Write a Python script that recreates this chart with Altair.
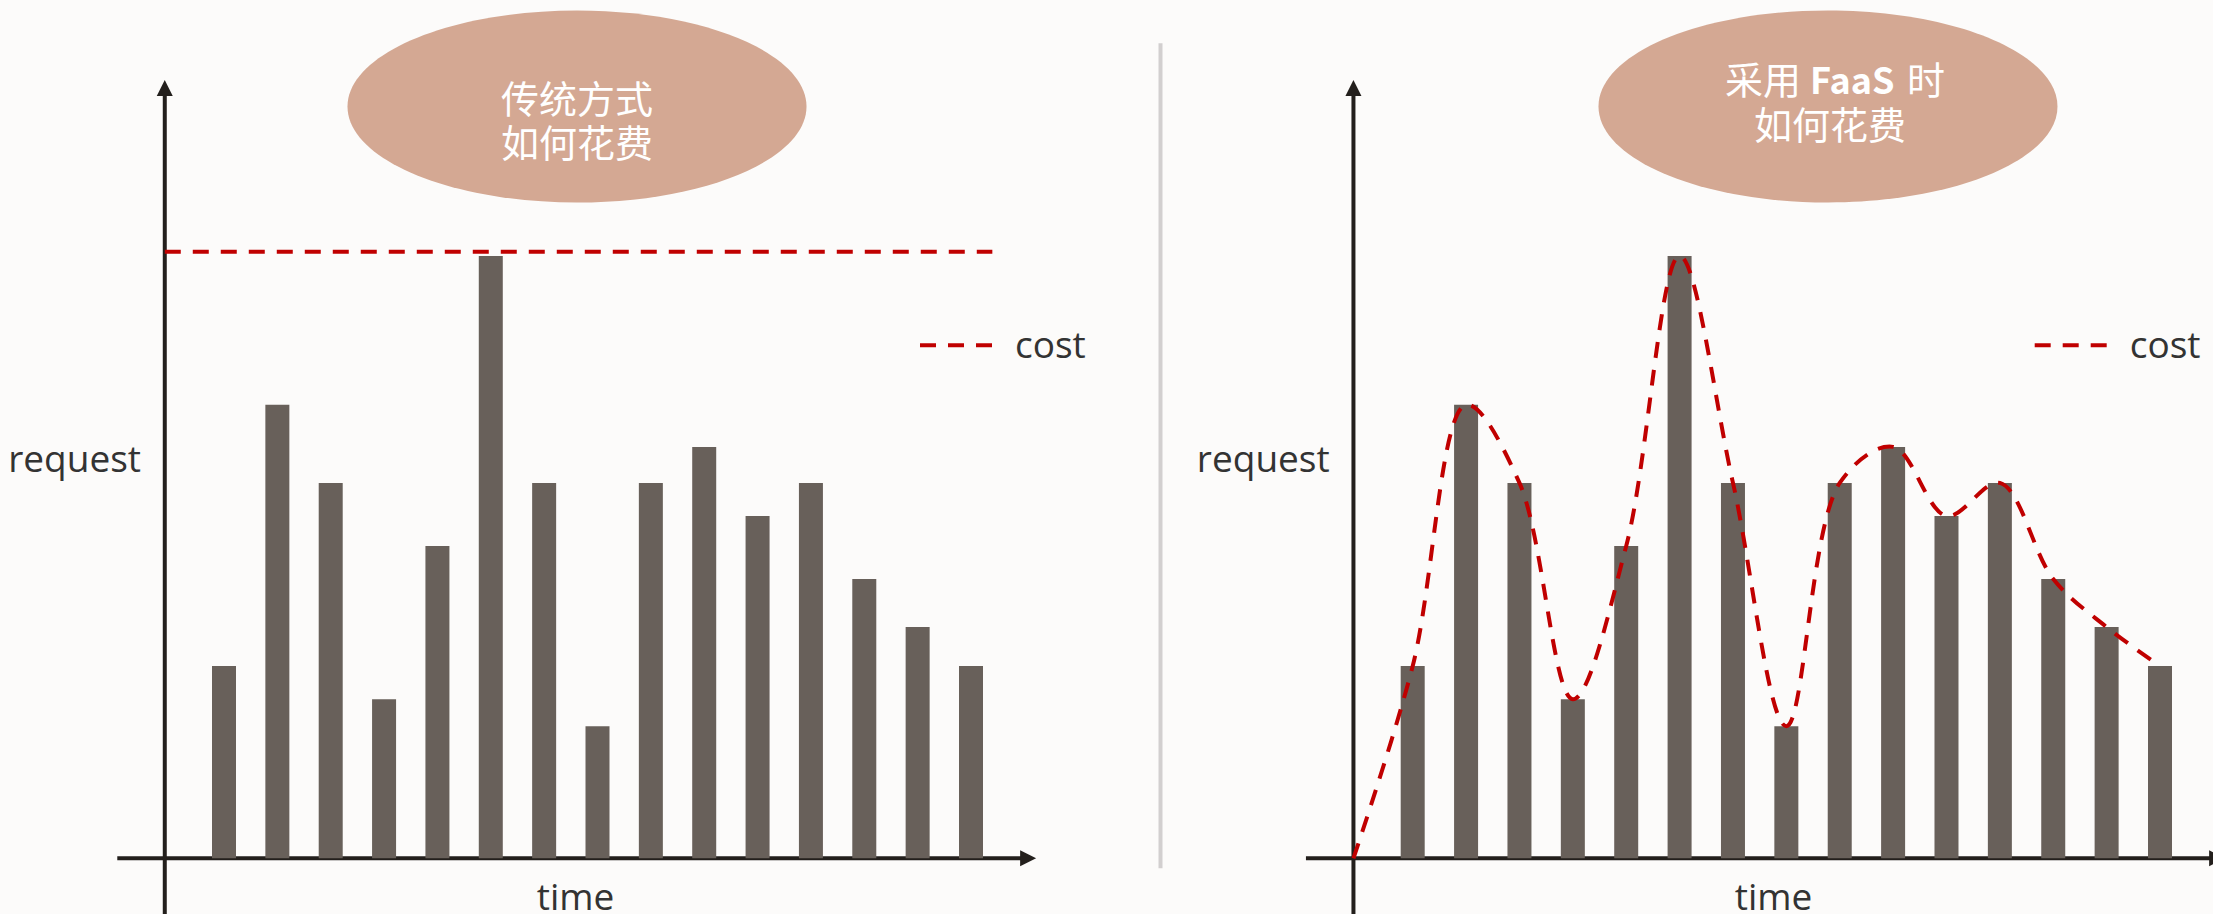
import altair as alt
import pandas as pd

# ---------------- data ----------------
time_slots = list(range(1, 16))
requests = [32, 75.5, 62.5, 26.5, 52, 100.3, 62.5, 22, 62.5, 68.5, 57, 62.5, 46.5, 38.5, 32]
fixed_cost = 101            # traditional way: provisioned for the peak
origin_time = -0.11         # where the two axes cross
axis_time_start = -1.0
axis_time_end = 16.22
cost_line_end = 15.4
axis_req_bottom = -10
axis_req_top = 129.6

left_title = ["传统方式", "如何花费"]
right_title_1 = ["采用", "FaaS", "时"]
right_title_2 = ["如何花费"]
x_label = ["time"]
y_label = ["request"]
legend_label = ["cost"]

# ---------------- styles ----------------
W, H = 2213, 914
BG = "#FCFBFA"
BAR = "#68605A"
RED = "#C00000"
AXIS = "#231F1C"
BADGE = "#D4A893"
TEXT = "#333333"
DIVIDER = "#D2CFCF"
LATIN = "Open Sans"
CJK = "Noto Sans CJK SC"
LABEL_SIZE = 37
TITLE_SIZE = 38
DASH = [16, 12]

bars_df = pd.DataFrame({"time": time_slots, "requests": requests})
curve_df = pd.DataFrame({"time": [origin_time] + time_slots,
                         "cost": [0] + requests})
curve_df["order"] = range(len(curve_df))
xaxis_df = pd.DataFrame({"t0": [axis_time_start], "t1": [axis_time_end], "r": [0]})
yaxis_df = pd.DataFrame({"t": [origin_time], "r0": [axis_req_bottom], "r1": [axis_req_top]})
xarrow_df = pd.DataFrame({"t": [axis_time_end], "r": [0]})
yarrow_df = pd.DataFrame({"t": [origin_time], "r": [axis_req_top]})
fixed_df = pd.DataFrame({"t0": [origin_time], "t1": [cost_line_end], "r": [fixed_cost]})
one = pd.DataFrame({"k": [0]})

y_scale = alt.Scale(domain=[0, fixed_cost], range=[858.3, 251.7], nice=False, zero=False, padding=0)

# ellipse symbol (bezier approximation), width:height = 459:192
RY = 192 / 459
K = 0.5523
ELLIPSE = (f"M-1,0C-1,{-K*RY:.4f},{-K:.4f},{-RY:.4f},0,{-RY:.4f}"
           f"C{K:.4f},{-RY:.4f},1,{-K*RY:.4f},1,0"
           f"C1,{K*RY:.4f},{K:.4f},{RY:.4f},0,{RY:.4f}"
           f"C{-K:.4f},{RY:.4f},-1,{K*RY:.4f},-1,0Z")
ARROW_UP = "M0,-1L1,1L-1,1Z"
ARROW_RIGHT = "M1,0L-1,-1L-1,1Z"


def text_layer(labels, x, y, size, color, font, weight="normal", align="left"):
    return alt.Chart(pd.DataFrame({"label": labels})).mark_text(
        align=align, baseline="alphabetic", fontSize=size, font=font,
        fontWeight=weight, color=color
    ).encode(text="label:N", x=alt.value(x), y=alt.value(y))


def panel(px1, px15, fixed, legend_x, request_right, time_center, badge_cx, titles):
    xs = alt.Scale(domain=[1, 15], range=[px1, px15], nice=False, zero=False, padding=0)
    X = lambda f: alt.X(f, scale=xs, axis=None)
    Y = lambda f: alt.Y(f, scale=y_scale, axis=None)

    layers = []
    # x axis + arrow
    layers.append(alt.Chart(xaxis_df).mark_rule(color=AXIS, strokeWidth=4, x2Offset=-8)
                  .encode(x=X("t0:Q"), x2="t1:Q", y=Y("r:Q")))
    layers.append(alt.Chart(xarrow_df).mark_point(shape=ARROW_RIGHT, size=256, filled=True,
                                                  opacity=1, color=AXIS, strokeWidth=0, xOffset=-8)
                  .encode(x=X("t:Q"), y=Y("r:Q")))
    # y axis + arrow
    layers.append(alt.Chart(yaxis_df).mark_rule(color=AXIS, strokeWidth=4, y2Offset=8)
                  .encode(x=X("t:Q"), y=Y("r0:Q"), y2="r1:Q"))
    layers.append(alt.Chart(yarrow_df).mark_point(shape=ARROW_UP, size=256, filled=True,
                                                  opacity=1, color=AXIS, strokeWidth=0, yOffset=8)
                  .encode(x=X("t:Q"), y=Y("r:Q")))
    # bars
    layers.append(alt.Chart(bars_df).mark_bar(size=24, color=BAR)
                  .encode(x=X("time:Q"), y=Y("requests:Q"), y2=alt.datum(0)))
    # cost
    if fixed:
        layers.append(alt.Chart(fixed_df).mark_rule(color=RED, strokeWidth=4, strokeDash=DASH)
                      .encode(x=X("t0:Q"), x2="t1:Q", y=Y("r:Q")))
    else:
        layers.append(alt.Chart(curve_df).mark_line(color=RED, strokeWidth=4, strokeDash=DASH,
                                                    interpolate="catmull-rom")
                      .encode(x=X("time:Q"), y=Y("cost:Q"), order="order:Q"))
    # legend
    layers.append(alt.Chart(one).mark_rule(color=RED, strokeWidth=4, strokeDash=DASH)
                  .encode(x=alt.value(legend_x), x2=alt.value(legend_x + 72), y=alt.value(345.3)))
    layers.append(text_layer(legend_label, legend_x + 95, 358.3, LABEL_SIZE, TEXT, LATIN))
    # axis labels
    layers.append(text_layer(y_label, request_right, 471.5, LABEL_SIZE, TEXT, LATIN, align="right"))
    layers.append(text_layer(x_label, time_center, 910, LABEL_SIZE, TEXT, LATIN, align="center"))
    # badge
    layers.append(alt.Chart(one).mark_point(shape=ELLIPSE, size=459 ** 2, filled=True, opacity=1,
                                            color=BADGE, strokeWidth=0)
                  .encode(x=alt.value(badge_cx), y=alt.value(106.5)))
    layers.extend(titles)
    return alt.layer(*layers)


left_titles = [
    text_layer([left_title[0]], 577, 113.3, TITLE_SIZE, "white", CJK, align="center"),
    text_layer([left_title[1]], 577, 157.0, TITLE_SIZE, "white", CJK, align="center"),
]
right_titles = [
    text_layer([right_title_1[0]], 1725, 94.4, TITLE_SIZE, "white", CJK, align="left"),
    text_layer([right_title_1[1]], 1810, 94.4, 36, "white", CJK, weight="bold", align="left"),
    text_layer([right_title_1[2]], 1907, 94.4, TITLE_SIZE, "white", CJK, align="left"),
    text_layer(right_title_2, 1830, 138.9, TITLE_SIZE, "white", CJK, align="center"),
]

left = panel(224, 971, True, 920, 141, 575.6, 577, left_titles)
right = panel(1412.7, 2160, False, 2034.7, 1329.7, 1773.6, 1828, right_titles)

divider = alt.Chart(one).mark_rule(color=DIVIDER, strokeWidth=4).encode(
    x=alt.value(1160.5), y=alt.value(43.3), y2=alt.value(868.3))

chart = alt.layer(left, right, divider).resolve_scale(x="independent").properties(
    width=W, height=H, padding=0,
    autosize=alt.AutoSizeParams(type="none"),
    background=BG,
).configure_view(stroke=None)

chart.save("out.html", embed_options={"renderer": "svg", "actions": False})
